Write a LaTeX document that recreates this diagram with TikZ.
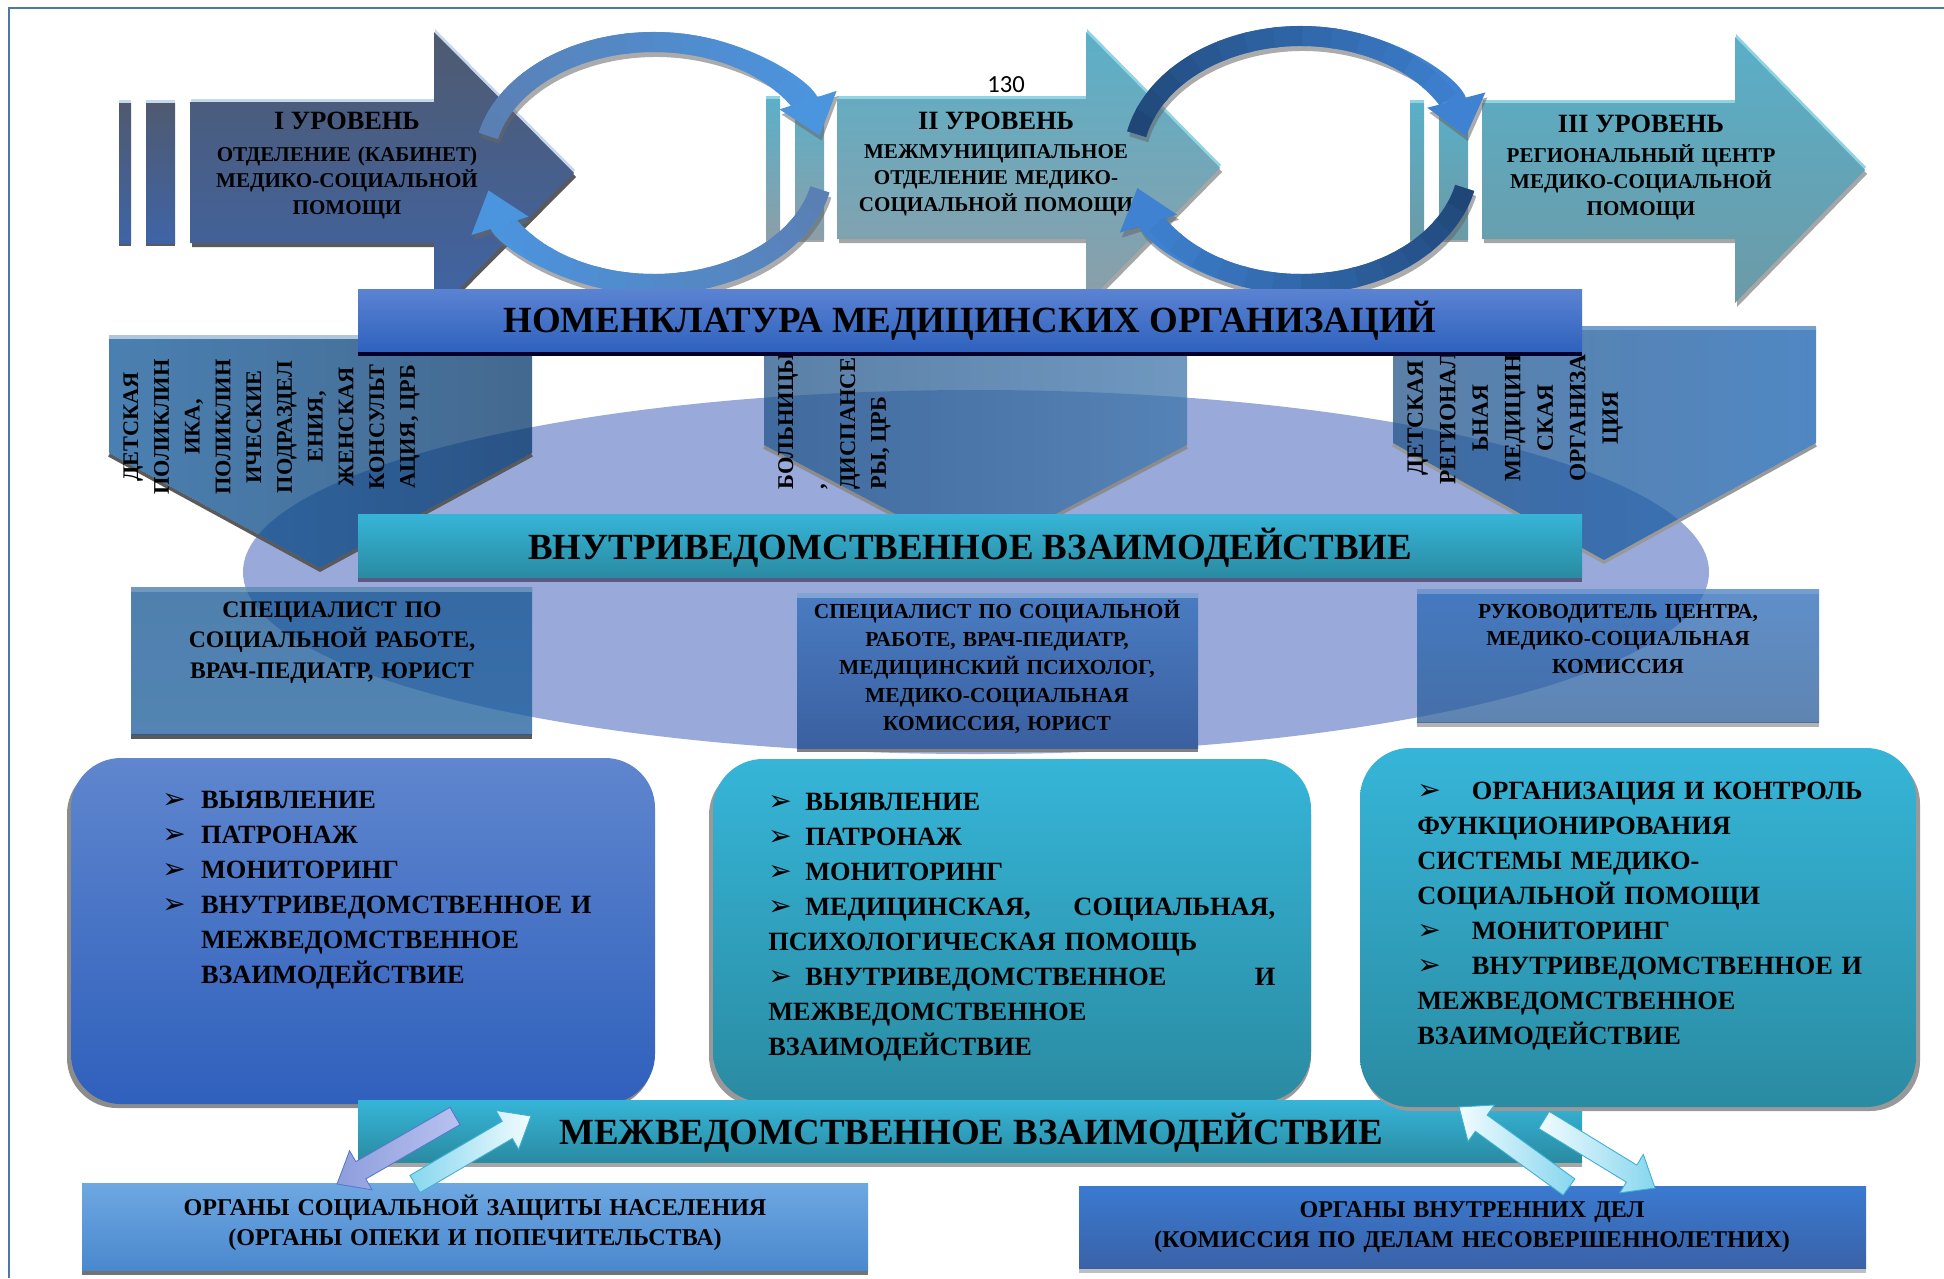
\documentclass[tikz,border=0pt]{standalone}
\usepackage{fontspec}
\setmainfont{Liberation Serif}
\newfontfamily\dejavu{DejaVu Sans}
\newfontfamily\carlito{Carlito}
\usetikzlibrary{calc,arrows.meta}

\definecolor{frameblue}{HTML}{4A78A8}
\definecolor{lvIa}{HTML}{4F5A70}
\definecolor{lvIb}{HTML}{3F64A6}
\definecolor{lvIIa}{HTML}{5BB0C8}
\definecolor{lvIIb}{HTML}{8C9EA8}
\definecolor{lvIIIa}{HTML}{5AAFC8}
\definecolor{lvIIIb}{HTML}{6C9AA6}
\definecolor{hlI}{HTML}{C8D8EC}
\definecolor{hlII}{HTML}{90D4E4}
\definecolor{cIa}{HTML}{5A7FB2}
\definecolor{cIb}{HTML}{4B94DE}
\definecolor{cIIa}{HTML}{1F4677}
\definecolor{cIIb}{HTML}{3F82D2}
\definecolor{nomA}{HTML}{5B83D2}
\definecolor{nomB}{HTML}{2F62BE}
\definecolor{tealA}{HTML}{36B5D8}
\definecolor{tealB}{HTML}{2A8BA2}
\definecolor{ellcol}{HTML}{98A9DA}
\definecolor{pIa}{HTML}{0E5698}
\definecolor{pIb}{HTML}{06376A}
\definecolor{pIIa}{HTML}{24568B}
\definecolor{pIIb}{HTML}{4076AB}
\definecolor{pIIIa}{HTML}{24568B}
\definecolor{pIIIb}{HTML}{1660B0}
\definecolor{sIa}{HTML}{145593}
\definecolor{sIb}{HTML}{1A5C9A}
\definecolor{sIIa}{HTML}{4A7CC2}
\definecolor{sIIb}{HTML}{3A60A0}
\definecolor{sIIIa}{HTML}{2A6AB8}
\definecolor{sIIIb}{HTML}{2A5C98}
\definecolor{rIa}{HTML}{5F86CE}
\definecolor{rIb}{HTML}{2F60BC}
\definecolor{bIa}{HTML}{6EA8E2}
\definecolor{bIb}{HTML}{4A88CE}
\definecolor{bIIa}{HTML}{3A7AD0}
\definecolor{bIIb}{HTML}{3A62A8}
\definecolor{lavA}{HTML}{8E9EDC}
\definecolor{lavB}{HTML}{B8C2F0}
\definecolor{lavedge}{HTML}{5A78C8}
\definecolor{cyanA}{HTML}{F2FCFF}
\definecolor{cyanB}{HTML}{86D6EE}
\definecolor{cyanedge}{HTML}{3FB0D2}
\definecolor{shadecol}{HTML}{5A5A5A}

\newcommand\shpI{(190,102) -- (434,102) -- (434,32) -- (574,173) -- (434,314) -- (434,243) -- (190,243) -- cycle}
\newcommand\shpII{(837,99) -- (1086,99) -- (1086,32) -- (1220,168) -- (1086,304) -- (1086,239) -- (837,239) -- cycle}
\newcommand\shpIII{(1482,103) -- (1735,103) -- (1735,37) -- (1865,170) -- (1735,303) -- (1735,239) -- (1482,239) -- cycle}
\newcommand\pentI{(109,336) -- (532,336) -- (532,453) -- (320,568) -- (109,453) -- cycle}
\newcommand\pentII{(764,336) -- (1187,336) -- (1187,445) -- (975.5,556) -- (764,445) -- cycle}
\newcommand\pentIII{(1393,327) -- (1816,327) -- (1816,443) -- (1604,560) -- (1393,443) -- cycle}

\newcommand\gradarc[8]{%
  \draw[line width=0.4cm, black!60, opacity=0.55, -{Triangle[width=1.15cm,length=0.75cm]}]
    ($(#1,#2)+(2,5)$) ++(#5:#3 and #4) arc[start angle=#5, end angle=#6, x radius=#3, y radius=#4];
  \draw[line width=0.4cm, #8, -{Triangle[width=1.15cm,length=0.75cm]}]
    (#1,#2) ++(#5:#3 and #4) arc[start angle=#5, end angle=#6, x radius=#3, y radius=#4];
  \foreach \k in {0,...,13}{%
    \pgfmathsetmacro\aa{#5+(#6-#5)*\k/16}%
    \pgfmathsetmacro\bb{#5+(#6-#5)*(\k+1.15)/16}%
    \pgfmathtruncatemacro\pp{100-100*\k/14}%
    \draw[line width=0.4cm, #7!\pp!#8] (#1,#2) ++(\aa:#3 and #4) arc[start angle=\aa, end angle=\bb, x radius=#3, y radius=#4];
  }%
}

\newcommand\blockarrow[3]{%
  \coordinate (#1hb) at ($(#2)!0.55cm!(#1)$);
  \path[#3] ($(#1)!0.2cm!90:(#2)$) -- ($(#1hb)!0.2cm!90:(#2)$) -- ($(#1hb)!0.45cm!90:(#2)$) -- (#2)
     -- ($(#1hb)!0.45cm!-90:(#2)$) -- ($(#1hb)!0.2cm!-90:(#2)$) -- ($(#1)!0.2cm!-90:(#2)$) -- cycle;
}

\newcommand\bulsym{{\dejavu\bfseries\fontsize{16}{14}\selectfont ➢}}
\newcommand\bula{\makebox[22pt][l]{\bulsym}}
\newcommand\bulb{\makebox[21pt][l]{\bulsym}}
\newcommand\bulc{\makebox[31pt][l]{\bulsym}}

\begin{document}
\begin{tikzpicture}[x=0.02cm, y=-0.02cm,
  every node/.style={inner sep=0pt, text=black},
  lvltitle/.style={font=\bfseries\fontsize{15}{18}\selectfont, anchor=base},
  lvlsub/.style={font=\bfseries\fontsize{12}{15.3}\selectfont, align=center, text width=7cm, anchor=base},
  bartext/.style={font=\bfseries\fontsize{21}{25}\selectfont, anchor=base},
  ptext/.style={font=\bfseries\fontsize{12.7}{17.5}\selectfont, rotate=90, align=center},
  stext/.style={align=center, text width=7.8cm, anchor=base},
  listtext/.style={font=\bfseries\fontsize{15}{20}\selectfont, align=left, anchor=base west},
  btext/.style={font=\bfseries\fontsize{13.7}{17.6}\selectfont, align=center, text width=15.5cm, anchor=base},
]
\useasboundingbox (0,0) rectangle (1944,1278);
\fill[white] (0,0) rectangle (1944,1278);

% frame
\draw[frameblue, line width=1.3pt] (9,1278) -- (9,8) -- (1944,8);

% ---- Level I ----
\foreach \xa/\xb in {119/131,146/175}{
  \fill[shadecol] (\xa,103) rectangle (\xb,246);
  \fill[hlI] (\xa,100) rectangle (\xb,103);
  \shade[top color=lvIa, bottom color=lvIb] (\xa,103) rectangle (\xb,243);
}
\fill[shadecol, shift={(2,4)}] \shpI;
\fill[hlI, shift={(1,-3)}] \shpI;
\shade[top color=lvIa, bottom color=lvIb] \shpI;
\node[lvltitle] (l1t) at (347,129) {I УРОВЕНЬ};
\node[lvlsub] (l1s) at (347,161) {ОТДЕЛЕНИЕ (КАБИНЕТ)\\МЕДИКО-СОЦИАЛЬНОЙ\\ПОМОЩИ};

% ---- Level II ----
\foreach \xa/\xb in {766/780,795/824}{
  \fill[black!35] (\xa,99) rectangle (\xb,242);
  \fill[hlII] (\xa,96) rectangle (\xb,99);
  \shade[top color=lvIIa, bottom color=lvIIb] (\xa,99) rectangle (\xb,239);
}
\fill[black!35, shift={(2,4)}] \shpII;
\fill[hlII, shift={(1,-3)}] \shpII;
\shade[top color=lvIIa, bottom color=lvIIb] \shpII;
\node[font=\carlito\fontsize{14}{16}\selectfont, anchor=base] (pnum) at (1006,92) {130};
\node[lvltitle] (l2t) at (996,129) {II УРОВЕНЬ};
\node[lvlsub] (l2s) at (996,158) {МЕЖМУНИЦИПАЛЬНОЕ\\ОТДЕЛЕНИЕ МЕДИКО-\\СОЦИАЛЬНОЙ ПОМОЩИ};

% ---- Level III ----
\foreach \xa/\xb in {1410/1424,1439/1468}{
  \fill[black!35] (\xa,103) rectangle (\xb,242);
  \fill[hlII] (\xa,100) rectangle (\xb,103);
  \shade[top color=lvIIIa, bottom color=lvIIIb] (\xa,103) rectangle (\xb,239);
}
\fill[black!35, shift={(2,4)}] \shpIII;
\fill[hlII, shift={(1,-3)}] \shpIII;
\shade[top color=lvIIIa, bottom color=lvIIIb] \shpIII;
\node[lvltitle] (l3t) at (1641,132) {III УРОВЕНЬ};
\node[lvlsub] (l3s) at (1641,162) {РЕГИОНАЛЬНЫЙ ЦЕНТР\\МЕДИКО-СОЦИАЛЬНОЙ\\ПОМОЩИ};

% ---- circular arrows ----
\gradarc{654}{163}{170}{121}{-167}{-13}{cIa}{cIb}
\gradarc{654}{163}{170}{121}{12.6}{167}{cIa}{cIb}
\gradarc{1301}{160}{168}{124}{-168}{-11}{cIIa}{cIIb}
\gradarc{1301}{160}{168}{124}{13}{167}{cIIa}{cIIb}

% ---- big ellipse ----
\fill[ellcol] (976,572) ellipse [x radius=733, y radius=182];

% ---- pentagons ----
\draw[shadecol, line width=0.07cm] (109,455) -- (320,570) -- (532,455);
\path[left color=pIa, right color=pIb, fill opacity=0.75] \pentI;
\draw[white!45!pIa!60!white, line width=0.08cm] (109,337) -- (532,337);
\node[ptext] (p1t) at (271.5,427) {ДЕТСКАЯ\\ПОЛИКЛИН\\ИКА,\\ПОЛИКЛИН\\ИЧЕСКИЕ\\ПОДРАЗДЕЛ\\ЕНИЯ,\\ЖЕНСКАЯ\\КОНСУЛЬТ\\АЦИЯ, ЦРБ};

\draw[black!45, line width=0.07cm] (764,447) -- (975.5,558) -- (1187,447);
\path[left color=pIIa, right color=pIIb, fill opacity=0.75] \pentII;
\node[ptext, align=left, anchor=west, font=\bfseries\fontsize{12.8}{17.6}\selectfont] (p2t) at (834.5,490) {БОЛЬНИЦЫ\\,\\ДИСПАНСЕ\\РЫ, ЦРБ};

\draw[black!40, line width=0.07cm] (1393,445) -- (1604,562) -- (1816,445);
\path[left color=pIIIa, right color=pIIIb, fill opacity=0.75] \pentIII;
\draw[white!40!pIIIb, line width=0.08cm] (1393,328) -- (1816,328);
\node[ptext, font=\bfseries\fontsize{13.3}{18.5}\selectfont] (p3t) at (1515,418) {ДЕТСКАЯ\\РЕГИОНАЛ\\ЬНАЯ\\МЕДИЦИН\\СКАЯ\\ОРГАНИЗА\\ЦИЯ};

% ---- nomenclature bar ----
\fill[black!60!blue!40!black] (358,351) rectangle (1582,356);
\shade[top color=nomA, bottom color=nomB] (358,289) rectangle (1582,351);
\node[bartext] (nom) at (970,332) {НОМЕНКЛАТУРА МЕДИЦИНСКИХ ОРГАНИЗАЦИЙ};

% ---- intra-departmental bar ----
\fill[black!45!blue!30!gray] (358,577) rectangle (1582,582);
\shade[top color=tealA, bottom color=tealB] (358,514) rectangle (1582,577);
\node[bartext] (vnu) at (970,559) {ВНУТРИВЕДОМСТВЕННОЕ ВЗАИМОДЕЙСТВИЕ};

% ---- specialist boxes ----
\fill[shadecol] (131,734) rectangle (532,739);
\path[top color=sIa, bottom color=sIb, fill opacity=0.75] (131,587) rectangle (532,734);
\fill[white!50!sIa, opacity=0.6] (131,587) rectangle (532,592);
\node[stext, font=\bfseries\fontsize{13.5}{17.6}\selectfont] (s1t) at (332,617) {СПЕЦИАЛИСТ ПО\\СОЦИАЛЬНОЙ РАБОТЕ,\\ВРАЧ-ПЕДИАТР, ЮРИСТ};

\fill[black!50] (797,748) rectangle (1198,752);
\shade[top color=sIIa, bottom color=sIIb] (797,593) rectangle (1198,748);
\fill[white!30!sIIa] (797,593) rectangle (1198,598);
\node[stext, font=\bfseries\fontsize{12.2}{16}\selectfont] (s2t) at (997,618) {СПЕЦИАЛИСТ ПО СОЦИАЛЬНОЙ\\РАБОТЕ, ВРАЧ-ПЕДИАТР,\\МЕДИЦИНСКИЙ ПСИХОЛОГ,\\МЕДИКО-СОЦИАЛЬНАЯ\\КОМИССИЯ, ЮРИСТ};

\fill[black!30] (1417,722) rectangle (1819,727);
\path[top color=sIIIa, bottom color=sIIIb, fill opacity=0.75] (1417,589) rectangle (1819,722);
\fill[white!40!sIIIa, opacity=0.7] (1417,589) rectangle (1819,594);
\node[stext, font=\bfseries\fontsize{12.2}{15.9}\selectfont] (s3t) at (1618,618) {РУКОВОДИТЕЛЬ ЦЕНТРА,\\МЕДИКО-СОЦИАЛЬНАЯ\\КОМИССИЯ};

% ---- rounded boxes ----
\fill[black!45, rounded corners=1cm] (67,764) rectangle (653,1108);
\shade[top color=rIa, bottom color=rIb, rounded corners=1cm] (71,758) rectangle (655,1104);
\node[listtext, text width=10cm] (r1t) at (162,808) {\bula ВЫЯВЛЕНИЕ\\\bula ПАТРОНАЖ\\\bula МОНИТОРИНГ\\\bula ВНУТРИВЕДОМСТВЕННОЕ И\\\hspace*{22pt}МЕЖВЕДОМСТВЕННОЕ\\\hspace*{22pt}ВЗАИМОДЕЙСТВИЕ};

\fill[black!40, rounded corners=1cm] (709,765) rectangle (1311,1106);
\shade[top color=tealA, bottom color=tealB, rounded corners=1cm] (713,759) rectangle (1311,1102);
\node[listtext, text width=10.14cm] (r2t) at (768,810) {\bulb ВЫЯВЛЕНИЕ\\\bulb ПАТРОНАЖ\\\bulb МОНИТОРИНГ\\\bulb МЕДИЦИНСКАЯ,\hfill СОЦИАЛЬНАЯ,\\ПСИХОЛОГИЧЕСКАЯ ПОМОЩЬ\\\bulb ВНУТРИВЕДОМСТВЕННОЕ\hfill И\\МЕЖВЕДОМСТВЕННОЕ\\ВЗАИМОДЕЙСТВИЕ};

% ---- inter-departmental bar ----
\fill[black!35] (358,1162) rectangle (1582,1167);
\shade[top color=tealA, bottom color=tealB] (358,1100) rectangle (1582,1162);
\node[bartext] (mezh) at (971,1144) {МЕЖВЕДОМСТВЕННОЕ ВЗАИМОДЕЙСТВИЕ};

\fill[black!40, rounded corners=1cm] (1362,754) rectangle (1920,1111);
\shade[top color=tealA, bottom color=tealB, rounded corners=1cm] (1360,748) rectangle (1916,1107);
\node[listtext, text width=9.1cm] (r3t) at (1417,799) {\bulc ОРГАНИЗАЦИЯ И КОНТРОЛЬ\\ФУНКЦИОНИРОВАНИЯ\\СИСТЕМЫ МЕДИКО-\\СОЦИАЛЬНОЙ ПОМОЩИ\\\bulc МОНИТОРИНГ\\\bulc ВНУТРИВЕДОМСТВЕННОЕ И\\МЕЖВЕДОМСТВЕННОЕ\\ВЗАИМОДЕЙСТВИЕ};

% ---- bottom boxes ----
\fill[black!55] (82,1270) rectangle (868,1275);
\shade[top color=bIa, bottom color=bIb] (82,1183) rectangle (868,1270);
\node[btext] (b1t) at (475,1215) {ОРГАНЫ СОЦИАЛЬНОЙ ЗАЩИТЫ НАСЕЛЕНИЯ\\(ОРГАНЫ ОПЕКИ И ПОПЕЧИТЕЛЬСТВА)};

\fill[black!25] (1079,1268) rectangle (1866,1273);
\shade[top color=bIIa, bottom color=bIIb] (1079,1186) rectangle (1866,1268);
\node[btext] (b2t) at (1472,1217) {ОРГАНЫ ВНУТРЕННИХ ДЕЛ\\(КОМИССИЯ ПО ДЕЛАМ НЕСОВЕРШЕННОЛЕТНИХ)};

% ---- block arrows ----
\coordinate (aT) at (455,1116); \coordinate (aP) at (337,1184);
\coordinate (bT) at (415,1184); \coordinate (bP) at (531,1116);
\coordinate (cT) at (1569,1187); \coordinate (cP) at (1459,1107);
\coordinate (dT) at (1544,1120); \coordinate (dP) at (1655,1188);
\blockarrow{aT}{aP}{draw=lavedge, line width=0.5pt, left color=lavA, right color=lavB}
\blockarrow{bT}{bP}{draw=cyanedge, line width=0.5pt, left color=cyanB, right color=cyanA}
\blockarrow{cT}{cP}{draw=cyanedge, line width=0.5pt, left color=cyanA, right color=cyanB}
\blockarrow{dT}{dP}{draw=cyanedge, line width=0.5pt, left color=cyanA, right color=cyanB}
\end{tikzpicture}
\end{document}
